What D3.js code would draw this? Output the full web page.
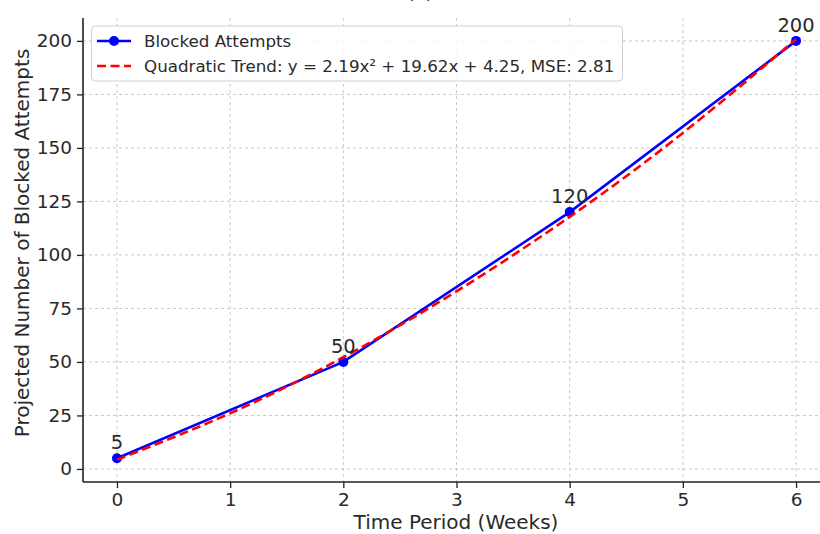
<!DOCTYPE html>
<html>
<head>
<meta charset="utf-8">
<script src="https://cdn.jsdelivr.net/npm/d3@7"></script>
<style>
  body { margin: 0; background: #fff; }
  svg { display: block; font-family: "DejaVu Sans", sans-serif; }
</style>
</head>
<body>
<svg id="chart" width="820" height="534"></svg>
<script>
// data
var weeks = [0, 2, 4, 6];
var blocked = [5, 50, 120, 200];
var trendWeeks = [0, 1, 2, 3, 4, 5, 6];
var trendVals = [4.3, 26, 52.2, 83, 117.8, 157, 200.8];
var xTicks = [0, 1, 2, 3, 4, 5, 6];
var yTicks = [0, 25, 50, 75, 100, 125, 150, 175, 200];

var TEXT_COL = "#2a2a2a";
var GRID_COL = "#c8c8c8";

var svg = d3.select("#chart");

var scaleX = d3.scaleLinear().domain([-0.3, 6.3]).range([83, 830]);
var scaleY = d3.scaleLinear().domain([-6.1, 210.7]).range([482, 18]);

// partly cut title at the top
svg.append("text")
    .attr("x", 420).attr("y", -1)
    .attr("text-anchor", "middle")
    .style("font-size", "18px")
    .style("fill", TEXT_COL)
    .text("(b)");

// grid
var grid = svg.append("g");
grid.selectAll(".gx").data(xTicks).enter().append("line")
    .attr("x1", d => scaleX(d)).attr("x2", d => scaleX(d))
    .attr("y1", 18).attr("y2", 482)
    .attr("stroke", GRID_COL).attr("stroke-width", 1)
    .attr("stroke-dasharray", "3,3");
grid.selectAll(".gy").data(yTicks).enter().append("line")
    .attr("x1", 83).attr("x2", 830)
    .attr("y1", d => scaleY(d)).attr("y2", d => scaleY(d))
    .attr("stroke", GRID_COL).attr("stroke-width", 1)
    .attr("stroke-dasharray", "3,3");

// axes
var xAxis = d3.axisBottom(scaleX).tickValues(xTicks).tickFormat(d3.format("d")).tickSize(6).tickPadding(5);
var yAxis = d3.axisLeft(scaleY).tickValues(yTicks).tickFormat(d3.format("d")).tickSize(6).tickPadding(5);

var gx = svg.append("g")
    .attr("transform", "translate(0," + 482 + ")")
    .call(xAxis);
var gy = svg.append("g")
    .attr("transform", "translate(" + 83 + ",0)")
    .call(yAxis);

[gx, gy].forEach(function(g) {
    g.select(".domain").attr("stroke", "#222").attr("stroke-width", 1.6);
    g.selectAll(".tick line").attr("stroke", "#222").attr("stroke-width", 1.3);
    g.selectAll(".tick text")
        .style("font-family", "DejaVu Sans")
        .style("font-size", "18.5px")
        .style("fill", TEXT_COL);
});
gx.select(".domain").attr("d", "M83,0H830");
gy.select(".domain").attr("d", "M0,18V482");

// axis titles
svg.append("text")
    .attr("x", 456).attr("y", 529)
    .attr("text-anchor", "middle")
    .style("font-size", "20px")
    .style("fill", TEXT_COL)
    .text("Time Period (Weeks)");

svg.append("text")
    .attr("transform", "translate(29,243) rotate(-90)")
    .attr("text-anchor", "middle")
    .style("font-size", "20px")
    .style("fill", TEXT_COL)
    .text("Projected Number of Blocked Attempts");

// blocked attempts line
var pts = weeks.map((w, i) => [w, blocked[i]]);
var line = d3.line().x(d => scaleX(d[0])).y(d => scaleY(d[1]));

svg.append("path")
    .attr("d", line(pts))
    .attr("fill", "none")
    .attr("stroke", "#0000ff")
    .attr("stroke-width", 2.6);

svg.selectAll(".pt").data(pts).enter().append("circle")
    .attr("cx", d => scaleX(d[0])).attr("cy", d => scaleY(d[1]))
    .attr("r", 5)
    .attr("fill", "#0000ff");

// quadratic trend
var trendPts = trendWeeks.map((w, i) => [w, trendVals[i]]);
svg.append("path")
    .attr("d", d3.line().curve(d3.curveNatural)
        .x(d => scaleX(d[0])).y(d => scaleY(d[1]))(trendPts))
    .attr("fill", "none")
    .attr("stroke", "#ff0000")
    .attr("stroke-width", 2.6)
    .attr("stroke-dasharray", "9,4.5");

// value labels
svg.selectAll(".lbl").data(pts).enter().append("text")
    .attr("x", d => scaleX(d[0]))
    .attr("y", d => scaleY(d[1]) - 9)
    .attr("text-anchor", "middle")
    .style("font-size", "19.5px")
    .style("fill", TEXT_COL)
    .text(d => d[1]);

// legend
var leg = svg.append("g");
leg.append("rect")
    .attr("x", 91.5).attr("y", 26).attr("width", 531).attr("height", 55)
    .attr("rx", 4)
    .attr("fill", "#fff").attr("fill-opacity", 0.85)
    .attr("stroke", "#d0d0d0");
leg.append("line")
    .attr("x1", 97).attr("x2", 131).attr("y1", 41).attr("y2", 41)
    .attr("stroke", "#0000ff").attr("stroke-width", 2.6);
leg.append("circle")
    .attr("cx", 114).attr("cy", 41).attr("r", 5).attr("fill", "#0000ff");
leg.append("line")
    .attr("x1", 97).attr("x2", 131).attr("y1", 66).attr("y2", 66)
    .attr("stroke", "#ff0000").attr("stroke-width", 2.6)
    .attr("stroke-dasharray", "9,4.5");
leg.append("text")
    .attr("x", 144).attr("y", 47)
    .style("font-size", "16.7px").style("fill", TEXT_COL)
    .text("Blocked Attempts");
leg.append("text")
    .attr("x", 144).attr("y", 72)
    .style("font-size", "16.7px").style("fill", TEXT_COL)
    .text("Quadratic Trend: y = 2.19x² + 19.62x + 4.25, MSE: 2.81");
</script>
</body>
</html>
